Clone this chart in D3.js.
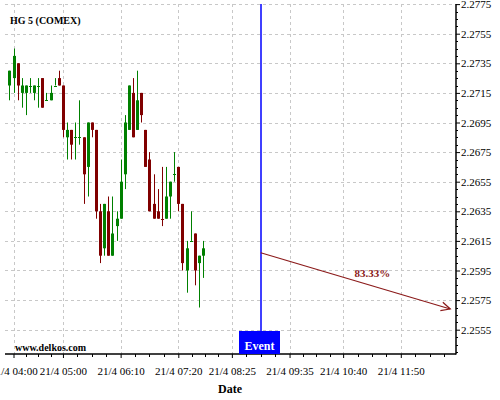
<!DOCTYPE html>
<html><head><meta charset="utf-8">
<script src="https://cdn.jsdelivr.net/npm/d3@7"></script>
<style>
body{margin:0;background:#fff;}
svg{display:block;font-family:"Liberation Serif","Times New Roman",serif;}
</style></head><body>
<svg id="c" width="500" height="400"></svg>
<script>
// ---- data ----
const times = ["03:55","04:00","04:05","04:10","04:15","04:20","04:25","04:30","04:35","04:40","04:45","04:50","04:55",
  "05:00","05:05","05:10","05:15","05:20","05:25","05:30","05:35","05:40","05:45","05:50","05:55",
  "06:00","06:05","06:10","06:15","06:20","06:25","06:30","06:35","06:40","06:45","06:50","06:55",
  "07:00","07:05","07:10","07:15","07:20","07:25","07:30","07:35","07:40","07:45","07:50"];
const open  = [2.2720,2.2725,2.2735,2.2715,2.2715,2.2720,2.2715,2.2720,2.2725,2.2710,2.2710,2.2720,2.2725,
  2.2720,2.2685,2.2690,2.2685,2.2685,2.2685,2.2665,2.2695,2.2690,2.2635,2.2610,2.2635,
  2.2605,2.2625,2.2630,2.2660,2.2690,2.2715,2.2690,2.2715,2.2690,2.2670,2.2640,2.2635,
  2.2630,2.2630,2.2645,2.2660,2.2665,2.2640,2.2595,2.2615,2.2620,2.2600,2.2605];
const high  = [2.2730,2.2745,2.2735,2.2725,2.2720,2.2725,2.2720,2.2725,2.2725,2.2715,2.2720,2.2725,2.2730,
  2.2720,2.2695,2.2690,2.2695,2.2710,2.2685,2.2695,2.2695,2.2690,2.2640,2.2640,2.2645,
  2.2645,2.2635,2.2670,2.2700,2.2720,2.2725,2.2730,2.2715,2.2690,2.2675,2.2660,2.2650,
  2.2665,2.2665,2.2655,2.2675,2.2665,2.2640,2.2615,2.2635,2.2620,2.2605,2.2615];
const low   = [2.2710,2.2715,2.2710,2.2705,2.2700,2.2715,2.2710,2.2705,2.2705,2.2710,2.2710,2.2720,2.2720,
  2.2685,2.2670,2.2670,2.2670,2.2680,2.2640,2.2645,2.2685,2.2630,2.2600,2.2605,2.2605,
  2.2605,2.2615,2.2630,2.2650,2.2690,2.2685,2.2690,2.2695,2.2665,2.2635,2.2630,2.2630,
  2.2625,2.2630,2.2630,2.2655,2.2635,2.2595,2.2580,2.2615,2.2585,2.2570,2.2590];
const close = [2.2730,2.2740,2.2720,2.2720,2.2720,2.2720,2.2720,2.2720,2.2705,2.2710,2.2715,2.2720,2.2720,
  2.2690,2.2690,2.2680,2.2685,2.2685,2.2660,2.2695,2.2690,2.2635,2.2605,2.2640,2.2605,
  2.2620,2.2630,2.2655,2.2695,2.2720,2.2685,2.2710,2.2700,2.2665,2.2635,2.2630,2.2630,
  2.2630,2.2645,2.2655,2.2660,2.2640,2.2600,2.2610,2.2615,2.2595,2.2605,2.2610];
const downDojis = ["07:00"];
const yTicks = [2.2775,2.2755,2.2735,2.2715,2.2695,2.2675,2.2655,2.2635,2.2615,2.2595,2.2575,2.2555];
const xTicks = ["04:00","05:00","06:10","07:20","08:25","09:35","10:40","11:50"];
const dayLabel = "21/4";
const title = "HG 5 (COMEX)";
const site = "www.delkos.com";
const xTitle = "Date";
const eventTime = "09:00";
const eventLabel = "Event";
const arrowFrom = {time:"09:00", value:2.2607};
const arrowTo   = {time:"12:50", value:2.2569};
const arrowLabel = "83.33%";

// ---- layout ----
const L = 5, R = 456, T = 4, B = 354;
const green = "#008000", red = "#800000", arrowCol = "#8b1a1a";
const parse = d3.timeParse("%H:%M"), fmt = d3.timeFormat("%H:%M");
const svg = d3.select("#c");

const x = d3.scaleTime().domain([parse("04:00"), parse("11:50")]).range([13.5, 400.8]);
const y = d3.scaleLinear().domain([2.2775, 2.2555]).range([4.1, 329.7]);

// gridlines
const grid = svg.append("g").attr("stroke", "#c8c8c8").attr("stroke-dasharray", "3,3").attr("stroke-width", 1);
grid.selectAll(".hg").data(yTicks).join("line")
  .attr("x1", L).attr("x2", R).attr("y1", d => Math.round(y(d)) + 0.5).attr("y2", d => Math.round(y(d)) + 0.5);
grid.selectAll(".vg").data(xTicks).join("line")
  .attr("y1", T).attr("y2", B).attr("x1", d => Math.round(x(parse(d))) + 0.5).attr("x2", d => Math.round(x(parse(d))) + 0.5);

// candles
const data = times.map((t, i) => ({t: parse(t), ts: t, o: open[i], h: high[i], l: low[i], c: close[i]}));
const col = d => d.c > d.o ? green : d.c < d.o ? red : (downDojis.includes(d.ts) ? red : green);
const cg = svg.append("g");
const cx = d => Math.round(x(d.t));
cg.selectAll(".w").data(data).join("line")
  .attr("x1", d => cx(d) + 0.5).attr("x2", d => cx(d) + 0.5)
  .attr("y1", d => y(d.h)).attr("y2", d => y(d.l))
  .attr("stroke", col).attr("stroke-width", 1);
cg.selectAll(".b").data(data).join("rect")
  .attr("x", d => cx(d) - 1).attr("width", 3)
  .attr("y", d => d.o === d.c ? Math.round(y(d.o)) : y(Math.max(d.o, d.c)))
  .attr("height", d => d.o === d.c ? 1 : Math.abs(y(d.o) - y(d.c)))
  .attr("fill", col);

// axes
const yAxis = d3.axisRight(y).tickValues(yTicks).tickSize(4).tickSizeOuter(0).tickPadding(1)
  .tickFormat(d3.format(".4f"));
const yg = svg.append("g").attr("transform", `translate(${R},0)`).call(yAxis);
yg.select(".domain").remove();
yg.selectAll("text").attr("font-size", 11).attr("font-family", "Liberation Serif").attr("fill", "#000");
const yMinor = d3.range(2.2775, 2.2538, -0.0005).filter(v => !yTicks.some(t => Math.abs(t - v) < 1e-6));
svg.append("g").selectAll("line").data(yMinor).join("line")
  .attr("x1", R).attr("x2", R + 2).attr("y1", d => Math.round(y(d)) + 0.5).attr("y2", d => Math.round(y(d)) + 0.5)
  .attr("stroke", "#000");

const xAxis = d3.axisBottom(x).tickValues(xTicks.map(parse)).tickSize(4).tickSizeOuter(0).tickPadding(9)
  .tickFormat(d => dayLabel + " " + fmt(d));
const xg = svg.append("g").attr("transform", `translate(0,${B})`).call(xAxis);
xg.select(".domain").remove();
xg.selectAll("text").attr("font-size", 11).attr("font-family", "Liberation Serif").attr("fill", "#000");
// minor x ticks
const xt = xTicks.map(parse);
const xMinor = [];
for (let i = 0; i < xt.length; i++) {
  const a = +xt[i], b = i < xt.length - 1 ? +xt[i + 1] : a + (+xt[i] - +xt[i - 1]);
  for (let k = 1; k < 4; k++) xMinor.push(new Date(a + (b - a) * k / 4));
}
svg.append("g").selectAll("line").data(xMinor.filter(d => x(d) < R)).join("line")
  .attr("y1", B).attr("y2", B + 3).attr("x1", d => Math.round(x(d)) + 0.5).attr("x2", d => Math.round(x(d)) + 0.5)
  .attr("stroke", "#000");

// axis lines
svg.append("line").attr("x1", R).attr("x2", R).attr("y1", T).attr("y2", B + 0.5).attr("stroke", "#000").attr("stroke-width", 1.5);
svg.append("line").attr("x1", L).attr("x2", R).attr("y1", B).attr("y2", B).attr("stroke", "#000").attr("stroke-width", 1.5);

// event
const ex = Math.round(x(parse(eventTime)));
svg.append("line").attr("x1", ex).attr("x2", ex).attr("y1", T).attr("y2", 331).attr("stroke", "#0000ff").attr("stroke-width", 1.5);
svg.append("rect").attr("x", ex - 22).attr("y", 331).attr("width", 41).attr("height", 23).attr("fill", "#0000ff");
svg.append("text").attr("x", ex - 1.5).attr("y", 350).attr("text-anchor", "middle")
  .attr("font-size", 12).attr("font-weight", "bold").attr("fill", "#fff").text(eventLabel);

// forecast arrow
const ax1 = x(parse(arrowFrom.time)), ay1 = y(arrowFrom.value);
const ax2 = x(parse(arrowTo.time)), ay2 = y(arrowTo.value);
svg.append("line").attr("x1", ax1).attr("y1", ay1).attr("x2", ax2).attr("y2", ay2)
  .attr("stroke", arrowCol).attr("stroke-width", 1.2);
const ang = Math.atan2(ay2 - ay1, ax2 - ax1), hl = 10, hw = 0.45;
svg.append("path")
  .attr("d", `M${ax2 - hl * Math.cos(ang - hw)},${ay2 - hl * Math.sin(ang - hw)}L${ax2},${ay2}L${ax2 - hl * Math.cos(ang + hw)},${ay2 - hl * Math.sin(ang + hw)}`)
  .attr("fill", "none").attr("stroke", arrowCol).attr("stroke-width", 1.2);
svg.append("text").attr("x", (ax1 + ax2) / 2 + 17).attr("y", (ay1 + ay2) / 2 - 4).attr("text-anchor", "middle")
  .attr("font-size", 11).attr("font-weight", "bold").attr("fill", arrowCol).text(arrowLabel);

// texts
svg.append("text").attr("x", 10).attr("y", 24).attr("font-size", 10).attr("font-weight", "bold").text(title);
svg.append("text").attr("x", 15).attr("y", 351).attr("font-size", 10).attr("font-weight", "bold").text(site);
svg.append("text").attr("x", 230).attr("y", 393).attr("text-anchor", "middle").attr("font-size", 12).attr("font-weight", "bold").text(xTitle);
</script>
</body></html>
